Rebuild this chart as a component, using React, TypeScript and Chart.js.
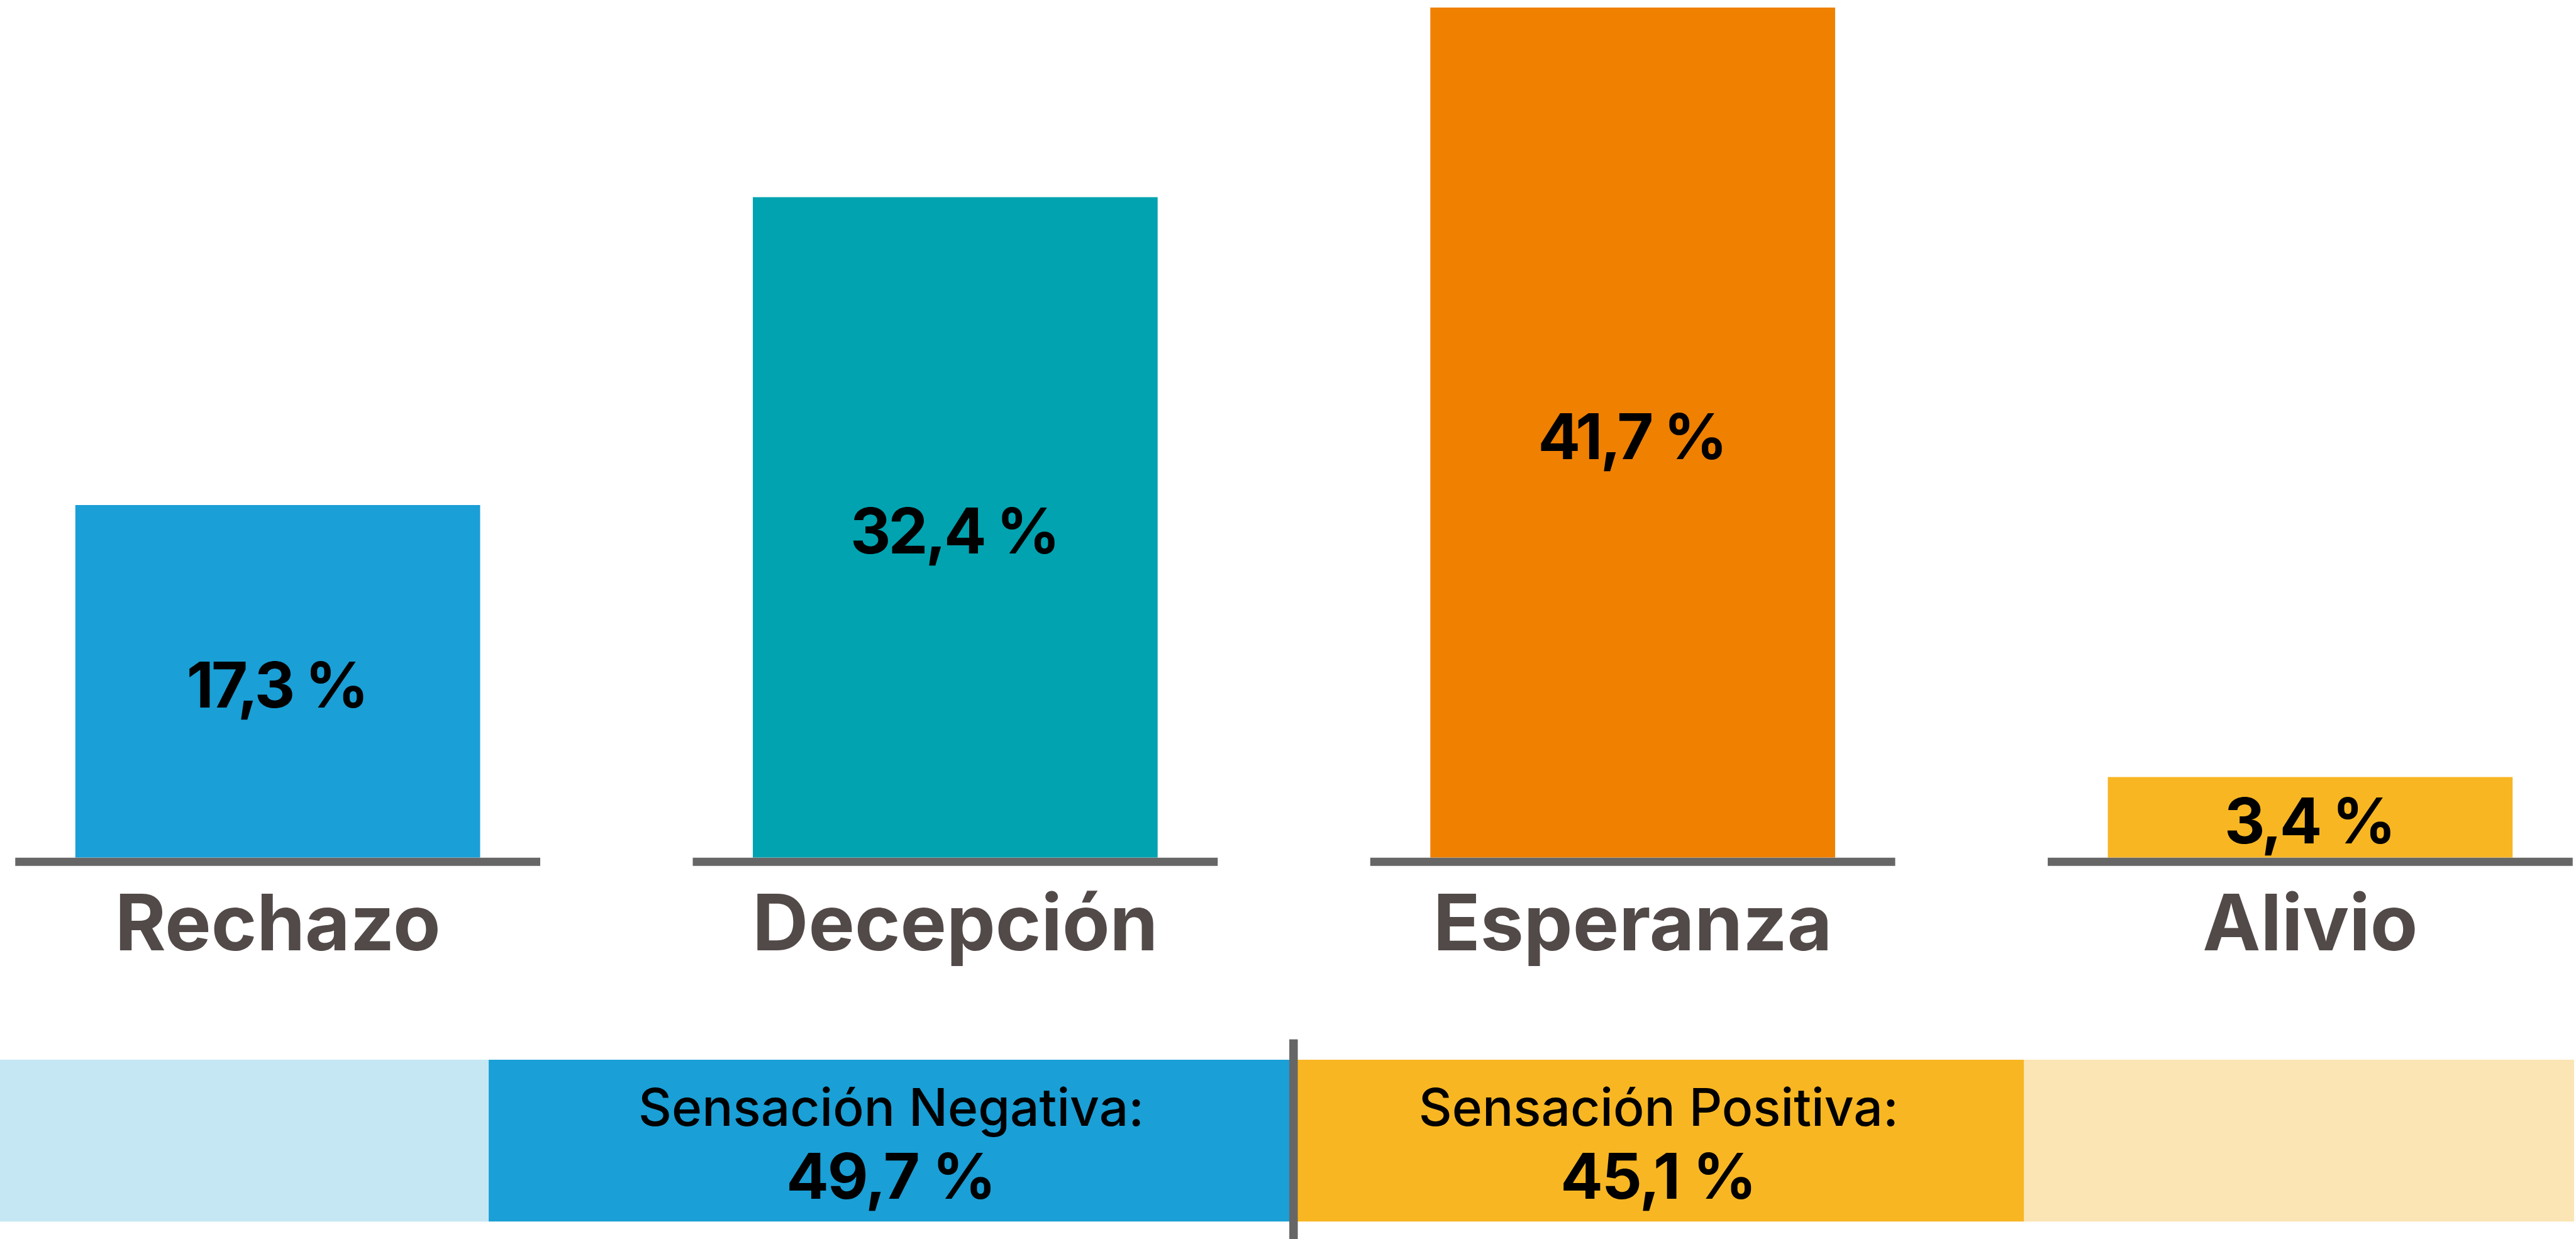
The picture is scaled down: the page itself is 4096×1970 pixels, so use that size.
import React, { useEffect, useRef } from 'react';
import { Chart, registerables } from 'chart.js';

Chart.register(...registerables);

// ---- data ----
const categories = ['Rechazo', 'Decepción', 'Esperanza', 'Alivio'];
const values = [17.3, 32.4, 41.7, 3.4];
const barColors = ['#1a9fd6', '#01a3b0', '#ef8000', '#f8b623'];

const sentimentLabels = ['Sensación Negativa:', 'Sensación Positiva:'];
const sentimentValues = [49.7, 45.1];
const sentimentColors = ['#1a9fd6', '#f8b623'];
const sentimentLightColors = ['#c5e7f3', '#fbe5b5'];

const yMax = 42.07;
const bandMin = -79.9;
const bandMax = 79.1;

// ---- layout (scaled from reference) ----
const S = 0.965;
const PITCH = 1116.33 * S;
const TOP_LEFT = (457.5 - 558.17) * S;
const TOP_W = Math.round(4 * PITCH);
const ZERO_Y = 1413.2 * S;
const TOP_H = 1600;
const BAND_TOP = 1640;
const BAND_H = 330;
const BAND_W = Math.round(4241 * S);

const fmt = (v: number) => v.toFixed(1).replace('.', ',') + ' %';
const FONT = 'Inter, "Open Sans", sans-serif';

export default function App() {
  const topRef = useRef<HTMLCanvasElement | null>(null);
  const bandRef = useRef<HTMLCanvasElement | null>(null);

  useEffect(() => {
    const valuePlugin = {
      id: 'valueLabels',
      afterDatasetsDraw(chart: any) {
        const ctx = chart.ctx;
        const meta = chart.getDatasetMeta(0);
        const zero = chart.scales.y.getPixelForValue(0);
        ctx.save();
        // baseline segments
        ctx.fillStyle = '#666666';
        meta.data.forEach((bar: any) => {
          const half = 432.5 * S;
          ctx.fillRect(bar.x - half, zero, half * 2, 13.5 * S);
        });
        ctx.fillStyle = '#000000';
        ctx.font = `700 ${100}px ${FONT}`;
        (ctx as any).letterSpacing = '-4px';
        ctx.textAlign = 'center';
        ctx.textBaseline = 'alphabetic';
        meta.data.forEach((bar: any, i: number) => {
          const mid = (bar.y + bar.base) / 2;
          ctx.fillText(fmt(values[i]), bar.x - 2, mid + 5.3 + 36.4);
        });
        ctx.restore();
      },
    };

    const top = new Chart(topRef.current as HTMLCanvasElement, {
      type: 'bar',
      data: {
        labels: categories,
        datasets: [
          {
            data: values,
            backgroundColor: barColors,
            borderWidth: 0,
            categoryPercentage: 1,
            barPercentage: 0.5975,
            minBarLength: 133 * S,
          },
        ],
      },
      options: {
        animation: false,
        responsive: false,
        devicePixelRatio: 1,
        layout: { padding: 0 },
        plugins: { legend: { display: false }, tooltip: { enabled: false } },
        scales: {
          x: {
            offset: true,
            grid: { display: false, drawTicks: false },
            border: { display: false },
            ticks: {
              padding: 36,
              color: '#524a48',
              font: { family: FONT, weight: 'bold', size: 123.4, lineHeight: 1.2 },
            },
            afterFit: (scale: any) => {
              scale.height = TOP_H - ZERO_Y;
            },
          },
          y: {
            display: false,
            min: 0,
            max: yMax,
          },
        },
      },
      plugins: [valuePlugin],
    } as any);

    const bandPlugin = {
      id: 'band',
      beforeDatasetsDraw(chart: any) {
        const { ctx, chartArea } = chart;
        const x0 = chart.scales.x.getPixelForValue(0);
        ctx.save();
        ctx.fillStyle = sentimentLightColors[0];
        ctx.fillRect(chartArea.left, chartArea.top, x0 - chartArea.left, chartArea.bottom - chartArea.top);
        ctx.fillStyle = sentimentLightColors[1];
        ctx.fillRect(x0, chartArea.top, chartArea.right - x0, chartArea.bottom - chartArea.top);
        ctx.restore();
      },
      afterDatasetsDraw(chart: any) {
        const { ctx, chartArea } = chart;
        const x0 = chart.scales.x.getPixelForValue(0);
        ctx.save();
        ctx.fillStyle = '#666666';
        const w = 14 * S;
        ctx.fillRect(x0 - w / 2, (1713 - 1700) * S, w, chart.height);
        ctx.fillStyle = '#000000';
        ctx.textAlign = 'center';
        ctx.textBaseline = 'alphabetic';
        chart.data.datasets.forEach((ds: any, i: number) => {
          const bar = chart.getDatasetMeta(i).data[0] as any;
          const cx = (bar.x + bar.base) / 2;
          ctx.font = `500 ${82}px ${FONT}`;
          (ctx as any).letterSpacing = '0px';
          ctx.fillText(sentimentLabels[i], cx, chartArea.top + 109 * S);
          ctx.font = `700 ${100}px ${FONT}`;
          (ctx as any).letterSpacing = '-2px';
          ctx.fillText(fmt(sentimentValues[i]), cx - 1, chartArea.top + 229 * S);
        });
        ctx.restore();
      },
    };

    const band = new Chart(bandRef.current as HTMLCanvasElement, {
      type: 'bar',
      data: {
        labels: ['Sensación'],
        datasets: sentimentValues.map((v, i) => ({
          label: sentimentLabels[i],
          data: [i === 0 ? -v : v],
          backgroundColor: sentimentColors[i],
          borderWidth: 0,
          barPercentage: 1,
          categoryPercentage: 1,
        })),
      },
      options: {
        indexAxis: 'y',
        animation: false,
        responsive: false,
        devicePixelRatio: 1,
        layout: {
          padding: {
            left: 0,
            right: 0,
            top: 1746 * S - BAND_TOP,
            bottom: BAND_H - (2012.7 * S - BAND_TOP),
          },
        },
        plugins: { legend: { display: false }, tooltip: { enabled: false } },
        scales: {
          x: { display: false, stacked: true, min: bandMin, max: bandMax },
          y: { display: false, stacked: true },
        },
      },
      plugins: [bandPlugin],
    } as any);

    return () => {
      top.destroy();
      band.destroy();
    };
  }, []);

  return (
    <div
      style={{
        position: 'fixed',
        left: 0,
        top: 0,
        width: 4096,
        height: 1970,
        overflow: 'hidden',
        background: '#ffffff',
      }}
    >
      <canvas
        ref={topRef}
        width={TOP_W}
        height={TOP_H}
        style={{ position: 'absolute', left: TOP_LEFT, top: 0, width: TOP_W, height: TOP_H }}
      />
      <canvas
        ref={bandRef}
        width={BAND_W}
        height={BAND_H}
        style={{ position: 'absolute', left: 0, top: BAND_TOP, width: BAND_W, height: BAND_H }}
      />
    </div>
  );
}
